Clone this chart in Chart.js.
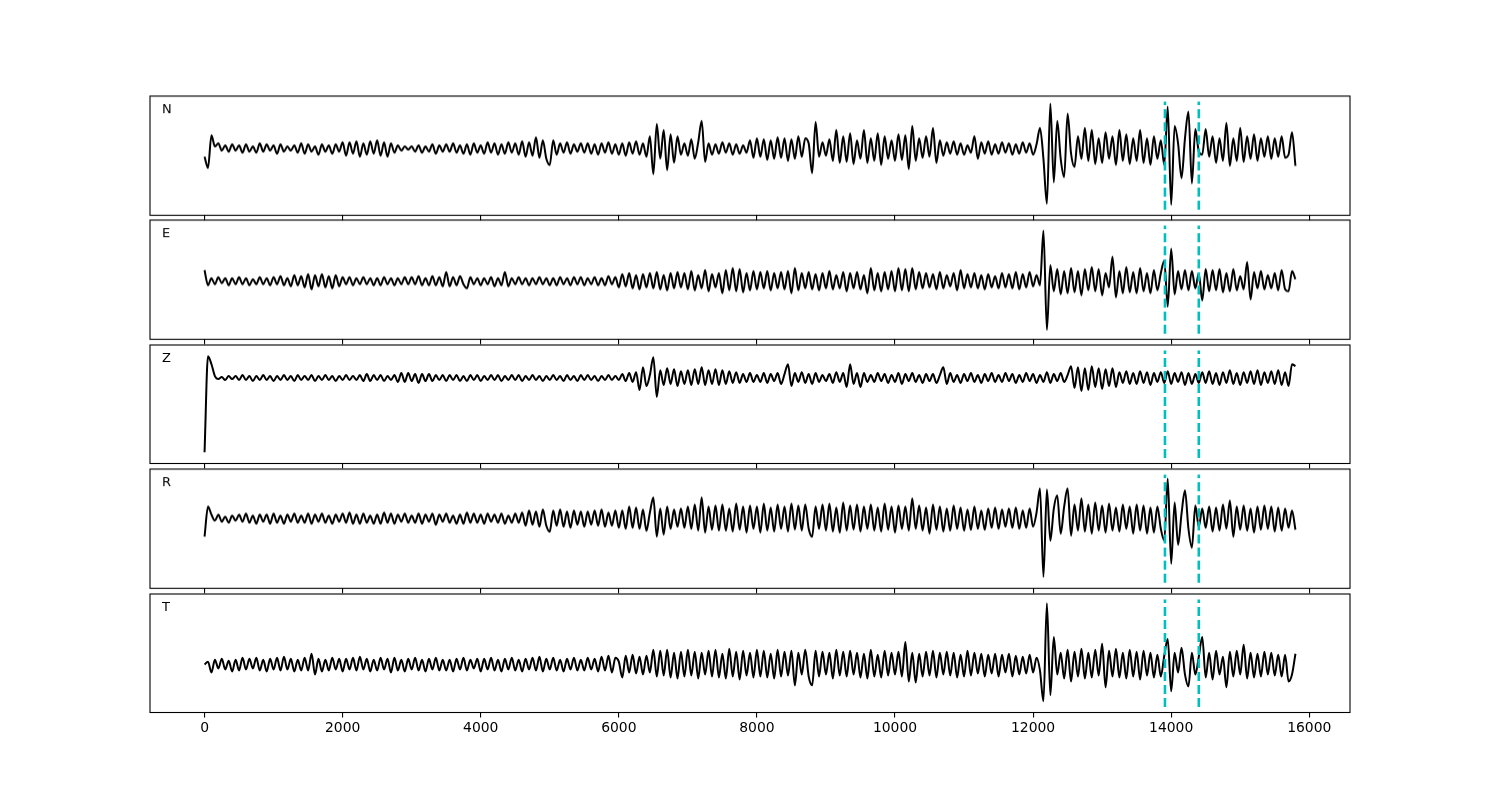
<!DOCTYPE html>
<html>
<head>
<meta charset="utf-8">
<title>Seismogram components</title>
<script src="https://cdn.jsdelivr.net/npm/chart.js@4.4.1/dist/chart.umd.min.js"></script>
<style>
  html, body { margin: 0; padding: 0; background: #fff; }
  #figure { position: relative; width: 1500px; height: 800px; overflow: hidden; }
  .panel { position: absolute; }
</style>
</head>
<body>
<div id="figure"></div>
<script>
'use strict';

//Sample spacing of the traces and shared x ticks
var sampleStep = 50;
var xTicks = [0, 2000, 4000, 6000, 8000, 10000, 12000, 14000, 16000];
var channels = ['N', 'E', 'Z', 'R', 'T'];

//Trace amplitudes, one value per sample
var traceN = [
    -8,-19,13,2,5,-2,3,-3,4,-2,
    3,-4,4,-3,2,-4,5,-3,4,-2,
    3,-5,4,-3,2,-2,3,-4,5,-5,
    4,-3,2,-6,4,-3,3,-5,4,-3,
    6,-7,6,-5,7,-8,5,-6,7,-5,
    8,-7,6,-8,5,-4,3,-2,2,-1,
    2,-3,3,-4,2,-3,4,-5,3,-3,
    4,-3,5,-4,3,-5,4,-6,5,-4,
    3,-5,6,-4,5,-6,4,-5,6,-4,
    5,-6,7,-8,6,-7,11,-9,8,-10,
    -16,8,-6,5,-4,6,-5,4,-3,5,
    -4,5,-5,4,-6,5,-4,6,-5,4,
    -6,5,-7,6,-5,7,-6,5,-8,12,
    -25,24,-10,18,-21,14,-14,12,-6,5,
    -7,9,-10,6,27,-13,5,-6,4,-5,
    6,-4,5,-6,4,-5,3,-4,8,-9,
    10,-8,9,-11,8,-10,11,-9,10,-12,
    9,-10,12,-8,10,5,-24,26,-8,6,
    -7,9,-12,18,-14,12,-13,15,-15,8,
    -10,18,-14,10,-12,15,-16,12,-10,8,
    -12,14,-11,13,-20,22,-12,10,-9,12,
    -8,20,-14,8,-7,6,-5,7,-6,5,
    -6,3,-4,12,-10,6,-5,7,-6,4,
    -5,6,-4,5,-6,4,-5,6,-4,5,
    -6,4,20,-10,-54,44,-33,27,-10,-28,
    34,-5,-18,12,-10,20,-12,18,-15,10,
    -14,16,-10,12,-16,18,-12,14,-15,10,
    -12,18,-14,10,-16,12,-10,8,-16,41,
    -55,22,5,-29,10,36,-34,19,-3,-6,
    19,-8,12,-14,10,-12,25,-17,10,-12,
    20,-13,12,-10,14,-12,10,-8,12,-10,
    10,-8,12,-9,-6,16,-17
];

var traceE = [
    11,-4,3,-3,4,-2,3,-4,3,-3,
    4,-3,3,-4,2,-3,4,-3,3,-4,
    4,-3,5,-4,3,-5,6,-4,5,-6,
    7,-8,6,-5,7,-6,5,-7,6,-5,
    4,-3,4,-4,3,-3,4,-3,3,-4,
    3,-4,4,-3,3,-4,3,-3,4,-3,
    4,-3,5,-4,3,-4,5,-4,4,-5,
    9,-5,4,-4,5,-3,-7,4,-3,3,
    -4,3,-3,4,-5,3,-4,9,-5,3,
    -3,4,-3,3,-4,3,-3,4,-3,3,
    -4,3,-4,4,-3,3,-4,4,-3,4,
    -4,3,-3,4,-4,3,-4,5,-3,4,
    -6,7,-5,8,-7,6,-8,7,-6,8,
    -7,9,-8,6,-9,8,-7,9,-6,8,
    -8,10,-9,6,-7,11,-10,7,-6,8,
    -12,11,-9,13,-10,12,-11,8,-9,10,
    -8,9,-7,10,-9,8,-7,9,-8,10,
    -12,13,-9,8,-7,9,-8,7,-9,8,
    -7,10,-8,6,-7,9,-10,8,-7,9,
    -8,6,-12,13,-9,8,-10,9,-8,10,
    -10,13,-9,12,-10,13,-8,9,-7,8,
    -6,7,-8,9,-7,6,-5,8,-9,11,
    -7,7,-6,8,-7,6,-8,7,-6,5,
    -7,8,-6,7,-7,9,-8,7,-6,9,
    -5,6,-4,50,-48,16,-10,12,-13,10,
    -12,13,-11,10,-14,12,-9,14,-10,12,
    -14,8,-6,24,-16,10,-12,14,-11,9,
    -12,13,-10,8,-12,11,-9,8,20,-25,
    32,-13,10,-8,11,-9,10,-7,8,-19,
    12,-10,11,-9,12,-11,8,-10,12,-9,
    5,-8,19,-18,9,-7,10,-8,6,-7,
    8,-9,11,-8,-10,10,2
];

var traceZ = [
    -75,22,14,2,-1,1,-2,2,-1,2,
    -2,3,-2,2,-3,2,-2,3,-2,2,
    -3,2,-2,3,-2,2,-3,3,-2,2,
    -2,3,-3,2,-2,3,-2,2,-3,2,
    -2,3,-2,2,-2,3,-3,4,-3,3,
    -2,3,-3,2,-2,3,-4,5,-4,5,
    -3,4,-5,4,-3,4,-3,3,-2,3,
    -3,3,-2,3,-3,2,-3,3,-2,3,
    -3,2,-2,3,-2,3,-3,2,-2,3,
    -2,3,-3,2,-2,3,-2,2,-3,2,
    -2,3,-2,2,-3,3,-2,2,-3,3,
    -2,3,-2,2,-3,2,-2,3,-2,2,
    -2,4,-3,5,-4,6,-12,11,-8,3,
    21,-19,8,-7,10,-6,9,-8,7,-6,
    8,-7,9,-6,11,-7,8,-6,9,-7,
    8,-6,7,-5,6,-5,4,-4,5,-4,
    3,-4,5,-5,4,-3,5,-6,4,14,
    -8,5,-4,6,-5,4,-6,5,-4,3,
    -3,4,-5,6,-4,5,-9,14,-6,5,
    -9,5,-4,3,-4,5,-3,4,-5,3,
    -4,5,-6,4,-3,5,-4,3,-5,4,
    -3,4,-5,3,11,-6,5,-4,3,-5,
    4,-3,5,-4,3,-5,4,-3,5,-4,
    3,-4,5,-3,4,-5,3,-4,5,-3,
    4,-5,3,-4,6,-5,4,-3,5,-4,
    3,12,-10,11,-13,10,-12,12,-9,10,
    -11,9,-8,10,-9,6,-5,7,-6,5,
    -6,7,-5,6,-7,5,-4,6,-5,7,
    -6,5,-4,6,-7,5,-6,4,-5,6,
    -5,7,-6,5,-7,6,-5,8,-6,5,
    -7,6,-5,7,-6,8,-7,6,-5,7,
    -6,8,-7,6,-8,14,12
];

var traceR = [
    -18,12,4,-2,4,-3,2,-4,3,-2,
    4,-3,5,-4,3,-5,4,-3,4,-5,
    5,-4,3,-5,4,-3,5,-4,3,-4,
    5,-5,4,-3,5,-4,3,-5,4,-3,
    5,-4,6,-5,4,-5,5,-4,3,-5,
    4,-5,6,-4,5,-5,4,-3,5,-4,
    3,-4,5,-5,4,-3,5,-6,4,-3,
    5,-4,3,-5,4,-5,6,-4,5,-4,
    4,-5,5,-3,4,-4,5,-5,3,-4,
    5,-4,6,-7,8,-6,7,-8,9,-7,
    -13,8,-7,9,-8,7,-9,8,-6,7,
    -8,7,-6,8,-7,9,-8,6,-7,8,
    -9,8,-10,12,-9,11,-10,9,-12,6,
    21,-18,10,-16,12,-10,9,-8,10,-9,
    12,-10,14,-12,21,-14,12,-11,13,-12,
    14,-12,10,-13,15,-11,12,-14,13,-10,
    12,-14,15,-12,11,-13,14,-10,12,-13,
    15,-11,13,-12,14,-10,-18,12,-10,14,
    -12,15,-13,11,-14,16,-12,13,-11,14,
    -13,12,-10,14,-12,11,-13,15,-11,12,
    -14,13,-10,12,-12,20,-10,13,-12,11,
    -15,14,-11,12,-13,10,-12,13,-10,11,
    -12,9,-11,12,-10,8,-11,10,-9,11,
    -10,9,-8,10,-9,11,-10,8,-9,10,
    -8,6,30,-58,29,-22,10,23,-15,12,
    30,-17,14,-12,20,-13,14,-15,16,-12,
    13,-14,15,-12,11,-13,14,-10,12,-15,
    14,-12,13,-15,11,-14,12,-10,-22,40,
    -45,16,-26,5,28,-10,-29,13,-8,10,
    -9,12,-13,11,-12,14,-10,18,-18,12,
    -11,13,-12,10,-14,12,-11,13,-10,12,
    -13,11,-12,10,-9,8,-11
];

var traceT = [
    0,3,-8,5,-4,6,-5,4,-7,5,
    -6,7,-5,6,-4,7,-6,5,-7,6,
    -5,7,-6,8,-5,6,-7,5,-6,7,
    -6,11,-10,6,-7,5,-6,7,-5,6,
    -7,6,-5,7,-6,8,-5,6,-7,5,
    -6,7,-5,6,-8,7,-6,5,-7,6,
    -5,7,-6,5,-7,6,-5,7,-6,5,
    -6,5,-7,6,-5,7,-6,5,-4,6,
    -7,6,-5,7,-6,5,-7,6,-5,7,
    -6,5,-7,6,-5,7,-6,8,-7,6,
    -5,7,-6,5,-7,6,-5,7,-6,5,
    -6,7,-5,6,-7,8,-6,9,-8,7,
    3,-13,9,-8,10,-9,8,-10,9,-8,
    15,-12,14,-11,15,-13,12,-14,13,-12,
    15,-11,13,-14,12,-10,14,-12,15,-13,
    11,-14,16,-12,13,-15,14,-11,12,-13,
    15,-12,14,-13,11,-14,15,-12,13,-11,
    14,-21,12,-10,15,-12,-21,14,-12,13,
    -10,12,-14,15,-11,13,-12,14,-10,12,
    -13,11,-14,15,-12,10,-13,14,-11,12,
    -10,13,-12,23,-17,12,-18,11,-12,13,
    -11,14,-13,12,-10,13,-11,12,-13,10,
    -12,14,-11,12,-9,11,-12,10,-9,11,
    -12,10,-8,11,-12,9,-10,8,-9,10,
    -8,7,-6,-37,62,-31,28,-10,12,-14,
    15,-17,13,-12,16,-14,12,-13,15,-11,
    21,-23,14,-12,16,-13,12,-14,15,-12,
    13,-15,14,-11,12,-13,10,-12,9,26,
    -27,12,-8,17,-10,-22,12,-10,8,28,
    -13,12,-15,14,-10,8,-23,13,-12,14,
    -10,20,-14,12,-13,11,-12,13,-10,12,
    -11,10,-12,10,-17,-10,11
];

var traces = [traceN, traceE, traceZ, traceR, traceT];

//Marker times (dashed cyan lines) and their extent in each panel
var markerTimes = [13910, 14400];
var markerLow = [-60, -52, -81, -64, -43];
var markerHigh = [46, 55, 28, 44, 66];

//Figure layout
var figLeft = 150, figWidth = 1200;
var axTop = 96, axHeight = 118.46, axPitch = 124.38;
var pad = 10, axisBand = 40;

function toPoints(values) {
    return values.map(function(v, i) {
        return { x: i * sampleStep, y: v };
    });
}

//Draw the frame and the channel letter on top of each panel
var framePlugin = {
    id: 'frame',
    afterDatasetsDraw: function(chart, args, opts) {
        var ca = chart.chartArea;
        var ctx = chart.ctx;
        ctx.save();
        ctx.strokeStyle = '#000';
        ctx.lineWidth = 1.1;
        ctx.strokeRect(ca.left, ca.top, ca.right - ca.left, ca.bottom - ca.top);
        ctx.fillStyle = '#000';
        ctx.font = '13px "DejaVu Sans"';
        ctx.textBaseline = 'alphabetic';
        ctx.fillText(opts.label, ca.left + 12, ca.top + 17);
        ctx.restore();
    }
};

var figure = document.getElementById('figure');

channels.forEach(function(name, k) {
    var top = axTop + k * axPitch;
    var box = document.createElement('div');
    box.className = 'panel';
    box.style.left = (figLeft - pad) + 'px';
    box.style.top = (top - pad) + 'px';
    box.style.width = (figWidth + 2 * pad) + 'px';
    box.style.height = (pad + axHeight + axisBand) + 'px';
    var canvas = document.createElement('canvas');
    box.appendChild(canvas);
    figure.appendChild(box);

    var lo = markerLow[k], hi = markerHigh[k];
    var margin = 0.05 * (hi - lo);
    var isLast = (k === channels.length - 1);

    var datasets = markerTimes.map(function(t) {
        return {
            data: [{ x: t, y: lo }, { x: t, y: hi }],
            borderColor: '#00BFBF',
            borderWidth: 2.6,
            borderDash: [9, 4],
            pointRadius: 0,
            order: 0
        };
    });
    datasets.push({
        data: toPoints(traces[k]),
        borderColor: '#000',
        borderWidth: 2,
        pointRadius: 0,
        cubicInterpolationMode: 'monotone',
        order: 1
    });

    new Chart(canvas, {
        type: 'line',
        data: { datasets: datasets },
        options: {
            responsive: true,
            maintainAspectRatio: false,
            animation: false,
            events: [],
            layout: { padding: { top: pad, left: pad, right: pad, bottom: 0 } },
            plugins: {
                legend: { display: false },
                tooltip: { enabled: false },
                frame: { label: name }
            },
            scales: {
                x: {
                    type: 'linear',
                    min: -790,
                    max: 16590,
                    afterBuildTicks: function(scale) {
                        scale.ticks = xTicks.map(function(v) { return { value: v }; });
                    },
                    afterFit: function(scale) { scale.height = axisBand; },
                    border: { display: false },
                    grid: {
                        drawOnChartArea: false,
                        drawTicks: true,
                        tickLength: 5,
                        color: '#000',
                        lineWidth: 1.1
                    },
                    ticks: {
                        display: isLast,
                        maxRotation: 0,
                        autoSkip: false,
                        padding: 3,
                        color: '#000',
                        font: { family: 'DejaVu Sans', size: 13.9 },
                        callback: function(v) { return String(v); }
                    }
                },
                y: {
                    display: false,
                    min: lo - margin,
                    max: hi + margin
                }
            }
        },
        plugins: [framePlugin]
    });
});
</script>
</body>
</html>
